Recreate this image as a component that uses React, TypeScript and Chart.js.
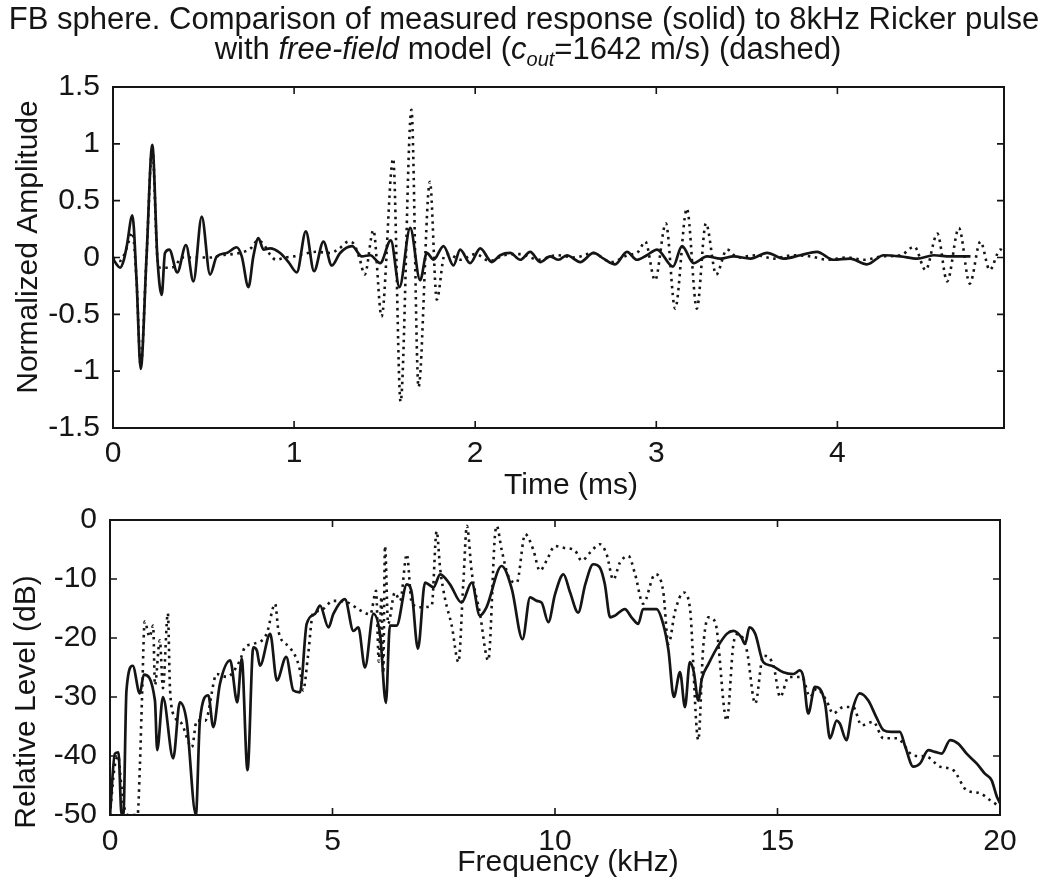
import React, { useEffect, useRef } from 'react';
import { Chart, registerables } from 'chart.js';

Chart.register(...registerables);

const FONT = '"Liberation Sans", Arial, Helvetica, sans-serif';
const INK = '#151515';

// ---- Data ----
// Time response: [time (ms), normalized amplitude]
const measuredPulse: [number, number][] = [
  [0, -0.01], [0.02, -0.06], [0.039, -0.09], [0.06, -0.02], [0.076, 0.1], [0.107, 0.37],
  [0.13, -0.2], [0.153, -0.98], [0.185, 0.0], [0.217, 0.99], [0.245, 0.0], [0.269, -0.33],
  [0.287, 0.04], [0.311, 0.07], [0.355, -0.13], [0.403, 0.11], [0.444, -0.21], [0.49, 0.36],
  [0.536, -0.15], [0.573, 0.01], [0.628, 0.04], [0.683, 0.09], [0.711, 0.01], [0.748, -0.26],
  [0.775, 0.01], [0.803, 0.17], [0.831, 0.07], [0.867, 0.08], [0.923, 0.04], [0.969, -0.04],
  [1.015, -0.13], [1.065, 0.23], [1.11, -0.12], [1.162, 0.14], [1.208, -0.07], [1.254, 0.04],
  [1.32, 0.1], [1.374, 0.01], [1.42, 0.02], [1.475, -0.05], [1.534, 0.15], [1.582, -0.26],
  [1.641, 0.26], [1.696, -0.2], [1.733, 0.04], [1.77, -0.02], [1.825, 0.1], [1.88, -0.07],
  [1.917, 0.07], [1.972, -0.05], [2.028, 0.08], [2.092, -0.04], [2.138, 0.02], [2.193, 0.04],
  [2.249, -0.02], [2.304, 0.05], [2.359, -0.04], [2.414, 0.01], [2.46, -0.02], [2.506, 0.02],
  [2.58, -0.04], [2.654, 0.04], [2.709, -0.01], [2.773, -0.06], [2.838, 0.05], [2.893, -0.02],
  [2.948, 0.02], [3.004, 0.07], [3.092, -0.08], [3.142, 0.1], [3.206, -0.05], [3.28, 0.01],
  [3.354, -0.01], [3.427, 0.01], [3.52, -0.01], [3.612, 0.04], [3.703, -0.01], [3.795, 0.02],
  [3.887, 0.05], [3.979, -0.02], [4.07, -0.01], [4.163, -0.06], [4.256, 0.02], [4.348, 0.01],
  [4.44, -0.01], [4.532, 0.02], [4.624, 0.01], [4.735, 0.01],
];

const modelPulse: [number, number][] = [
  [0, 0], [0.04, -0.03], [0.075, 0.08], [0.107, 0.22], [0.13, -0.2], [0.153, -0.95],
  [0.185, 0.0], [0.217, 0.97], [0.245, 0.0], [0.262, -0.09], [0.3, -0.09], [0.34, -0.08],
  [0.38, 0.0], [0.45, 0.0], [0.54, 0.0], [0.6, 0.02], [0.7, 0.04], [0.76, 0.08], [0.8, 0.15],
  [0.83, 0.12], [0.87, 0.02], [0.9, -0.02], [0.95, 0.0], [1.0, 0.01], [1.05, 0.03], [1.12, 0.05],
  [1.2, 0.04], [1.25, 0.08], [1.3, 0.14], [1.33, 0.12], [1.36, 0.0], [1.39, -0.15],
  [1.438, 0.24], [1.483, -0.52], [1.547, 0.87], [1.588, -1.27], [1.648, 1.3], [1.687, -1.14],
  [1.75, 0.667], [1.788, -0.37], [1.83, 0.02], [1.85, 0.03], [1.92, -0.02], [2.0, 0.03],
  [2.08, -0.03], [2.16, 0.02], [2.25, 0.03], [2.35, -0.02], [2.45, 0.02], [2.55, 0.0],
  [2.65, 0.04], [2.75, -0.04], [2.84, 0.02], [2.9, 0.05], [2.939, 0.14], [2.993, -0.2],
  [3.053, 0.3], [3.104, -0.45], [3.169, 0.43], [3.224, -0.45], [3.274, 0.3], [3.331, -0.15],
  [3.39, 0.07], [3.45, 0.0], [3.55, 0.02], [3.65, -0.01], [3.75, 0.02], [3.85, 0.01],
  [3.95, -0.02], [4.05, 0.0], [4.15, -0.02], [4.25, 0.01], [4.35, 0.02], [4.425, 0.095],
  [4.487, -0.11], [4.552, 0.21], [4.606, -0.21], [4.671, 0.26], [4.731, -0.23], [4.79, 0.14],
  [4.841, -0.11], [4.9, 0.07], [4.92, 0.05],
];

// Spectrum: [frequency (kHz), relative level (dB)]
const measuredSpectrum: [number, number][] = [
  [0, -50], [0.11, -39.6], [0.19, -39.4], [0.26, -50], [0.3, -50], [0.37, -28.9], [0.51, -24.7],
  [0.67, -29.4], [0.76, -26.2], [1.01, -30.6], [1.06, -39.0], [1.19, -30.0], [1.42, -40.4],
  [1.57, -30.9], [1.72, -34.0], [1.93, -50], [2.02, -34.0], [2.21, -29.7], [2.32, -35.1],
  [2.47, -27.8], [2.7, -23.8], [2.86, -30.9], [2.96, -23.5], [3.09, -42.4], [3.22, -21.6],
  [3.3, -22.1], [3.37, -24.7], [3.6, -19.3], [3.75, -27.2], [3.96, -23.2], [4.12, -28.9],
  [4.27, -29.2], [4.42, -17.6], [4.61, -15.9], [4.72, -14.5], [4.91, -18.2], [5.02, -15.9],
  [5.28, -13.4], [5.47, -18.8], [5.58, -18.2], [5.73, -25.0], [5.92, -15.9], [6.07, -19.5],
  [6.2, -31.0], [6.29, -17.9], [6.44, -17.9], [6.67, -10.9], [6.78, -12.3], [6.92, -21.8],
  [7.08, -10.6], [7.27, -11.4], [7.42, -9.2], [7.64, -10.9], [7.9, -14.0], [8.13, -10.6],
  [8.31, -16.2], [8.46, -14.8], [8.8, -7.8], [9.03, -11.7], [9.27, -20.2], [9.44, -13.1],
  [9.59, -13.7], [9.7, -14.0], [9.85, -17.3], [10.0, -12.6], [10.19, -9.2], [10.34, -12.3],
  [10.52, -15.7], [10.68, -10.9], [10.86, -7.5], [11.01, -8.1], [11.12, -10.9], [11.24, -16.5],
  [11.35, -16.2], [11.57, -15.1], [11.72, -16.5], [11.87, -17.6], [11.98, -15.1], [12.28, -15.1],
  [12.43, -17.6], [12.55, -22.1], [12.67, -30.0], [12.81, -25.8], [12.92, -31.7], [13.03, -24.1],
  [13.12, -25.8], [13.22, -30.6], [13.3, -26.9], [13.45, -24.4], [13.63, -21.8], [13.86, -19.3],
  [14.01, -18.8], [14.19, -19.9], [14.27, -21.0], [14.37, -18.2], [14.5, -19.3], [14.68, -24.1],
  [14.87, -24.7], [15.13, -25.8], [15.36, -26.1], [15.5, -25.5], [15.58, -26.6], [15.69, -32.8],
  [15.84, -28.3], [15.95, -28.6], [16.07, -31.1], [16.18, -37.0], [16.33, -34.0], [16.4, -34.5],
  [16.55, -37.3], [16.67, -32.6], [16.85, -29.4], [17.04, -30.6], [17.22, -33.4], [17.38, -35.6],
  [17.56, -35.9], [17.75, -35.9], [17.87, -38.4], [18.05, -41.8], [18.2, -41.3], [18.39, -39.0],
  [18.54, -39.3], [18.69, -39.6], [18.88, -37.3], [19.06, -37.9], [19.25, -39.6], [19.48, -41.3],
  [19.66, -43.0], [19.81, -44.1], [19.93, -46.9], [20.0, -48.0],
];

const modelSpectrum: [number, number][] = [
  [0, -50], [0.1, -42], [0.19, -40], [0.24, -44], [0.33, -49], [0.4, -50], [0.62, -50],
  [0.67, -42], [0.72, -30], [0.78, -17.2], [0.89, -19.8], [0.97, -17.9], [1.01, -28.0],
  [1.12, -20.4], [1.19, -28.5], [1.3, -15.8], [1.35, -28.9], [1.46, -33.4], [1.61, -34.5],
  [1.84, -38.5], [1.95, -34.0], [2.14, -34.0], [2.4, -26.1], [2.62, -26.6], [2.92, -23.8],
  [3.03, -21.6], [3.22, -21.0], [3.52, -19.3], [3.71, -14.2], [3.79, -19.0], [4.04, -21.6],
  [4.27, -25.5], [4.34, -28.9], [4.45, -23.0], [4.56, -15.9], [4.72, -15.4], [5.02, -13.7],
  [5.35, -14.0], [5.58, -15.1], [5.85, -16.0], [5.98, -12.0], [6.04, -24.0], [6.1, -13.0],
  [6.14, -26.0], [6.18, -4.4], [6.25, -17.6], [6.4, -12.3], [6.52, -13.7], [6.67, -5.8],
  [6.78, -14.0], [6.98, -14.8], [7.23, -14.5], [7.34, -1.9], [7.42, -8.3], [7.53, -13.4],
  [7.68, -17.9], [7.83, -24.1], [7.94, -10.6], [8.02, -1.0], [8.13, -8.9], [8.31, -15.7],
  [8.5, -23.8], [8.65, -2.7], [8.69, -1.0], [8.8, -5.0], [8.95, -9.5], [9.14, -10.6],
  [9.33, -2.4], [9.51, -5.0], [9.66, -8.6], [9.81, -6.9], [10.0, -4.4], [10.19, -4.7],
  [10.45, -5.2], [10.6, -6.9], [10.79, -5.5], [11.01, -4.1], [11.16, -5.8], [11.31, -10.1],
  [11.46, -7.2], [11.65, -6.1], [11.8, -9.2], [11.98, -14.2], [12.25, -9.2], [12.43, -12.0],
  [12.55, -21.0], [12.7, -15.4], [12.89, -12.3], [13.03, -14.8], [13.22, -37.3], [13.33, -21.6],
  [13.45, -16.5], [13.6, -17.3], [13.86, -34.0], [14.01, -21.0], [14.12, -19.3], [14.31, -22.1],
  [14.5, -31.1], [14.68, -23.0], [14.91, -24.7], [15.06, -30.0], [15.25, -26.6], [15.55, -26.6],
  [15.73, -30.0], [15.88, -28.6], [16.1, -30.6], [16.25, -32.8], [16.48, -31.7], [16.7, -31.7],
  [16.89, -34.8], [17.15, -34.2], [17.38, -37.0], [17.68, -37.0], [18.05, -39.9], [18.35, -40.1],
  [18.65, -41.8], [18.95, -42.4], [19.25, -45.8], [19.55, -46.3], [19.78, -47.5], [20.0, -48.6],
];

const timeTicks = [0, 1, 2, 3, 4];
const amplitudeTicks = [-1.5, -1, -0.5, 0, 0.5, 1, 1.5];
const frequencyTicks = [0, 5, 10, 15, 20];
const levelTicks = [-50, -40, -30, -20, -10, 0];

const titleLine1 = 'FB sphere. Comparison of measured response (solid) to 8kHz Ricker pulse';

// ---- helpers ----
type Run = { text: string; italic?: boolean; size?: number; dy?: number };
type TextItem = { runs: Run[]; x: number; y: number; size: number; rotate?: number };

function makeTextPlugin(id: string, items: TextItem[]) {
  return {
    id,
    afterDraw(chart: any) {
      const ctx = chart.ctx as CanvasRenderingContext2D;
      items.forEach((item) => {
        ctx.save();
        ctx.translate(item.x, item.y);
        if (item.rotate) ctx.rotate(item.rotate);
        ctx.fillStyle = INK;
        ctx.textBaseline = 'alphabetic';
        ctx.textAlign = 'left';
        const fontOf = (r: Run) => `${r.italic ? 'italic ' : ''}${r.size || item.size}px ${FONT}`;
        let total = 0;
        const widths = item.runs.map((r) => {
          ctx.font = fontOf(r);
          const w = ctx.measureText(r.text).width;
          total += w;
          return w;
        });
        let cx = -total / 2;
        item.runs.forEach((r, i) => {
          ctx.font = fontOf(r);
          ctx.fillText(r.text, cx, r.dy || 0);
          cx += widths[i];
        });
        ctx.restore();
      });
    },
  };
}

const framePlugin = {
  id: 'matlabFrame',
  afterDatasetsDraw(chart: any) {
    const { ctx, chartArea: a, scales } = chart;
    ctx.save();
    ctx.strokeStyle = INK;
    ctx.lineWidth = 2;
    ctx.strokeRect(a.left, a.top, a.right - a.left, a.bottom - a.top);
    const L = 7;
    ctx.lineWidth = 1.6;
    ctx.beginPath();
    scales.x.ticks.forEach((t: any) => {
      const x = scales.x.getPixelForValue(t.value);
      ctx.moveTo(x, a.bottom);
      ctx.lineTo(x, a.bottom - L);
      ctx.moveTo(x, a.top);
      ctx.lineTo(x, a.top + L);
    });
    scales.y.ticks.forEach((t: any) => {
      const y = scales.y.getPixelForValue(t.value);
      ctx.moveTo(a.left, y);
      ctx.lineTo(a.left + L, y);
      ctx.moveTo(a.right, y);
      ctx.lineTo(a.right - L, y);
    });
    ctx.stroke();
    ctx.restore();
  },
};

function lineDatasets(solid: [number, number][], dotted: [number, number][]) {
  return [
    {
      label: 'measured',
      data: solid.map(([x, y]) => ({ x, y })),
      borderColor: INK,
      borderWidth: 2.7,
      pointRadius: 0,
      showLine: true,
      fill: false,
      cubicInterpolationMode: 'monotone' as const,
      borderJoinStyle: 'round' as const,
      order: 0,
    },
    {
      label: 'model',
      data: dotted.map(([x, y]) => ({ x, y })),
      borderColor: INK,
      borderWidth: 2.6,
      borderDash: [2.5, 4.5],
      pointRadius: 0,
      showLine: true,
      fill: false,
      cubicInterpolationMode: 'monotone' as const,
      order: 1,
    },
  ];
}

function axisConfig(min: number, max: number, ticks: number[], pos: 'x' | 'y', fixed: number, pad: number) {
  return {
    type: 'linear' as const,
    min,
    max,
    grid: { display: false },
    border: { display: false },
    afterBuildTicks: (scale: any) => {
      scale.ticks = ticks.map((v) => ({ value: v }));
    },
    afterFit: (scale: any) => {
      if (pos === 'y') scale.width = fixed;
      else scale.height = fixed;
    },
    ticks: {
      color: INK,
      padding: pad,
      autoSkip: false,
      maxRotation: 0,
      font: { family: FONT, size: 30 },
      callback: (v: any) => String(Number(v)),
    },
  };
}

export default function App() {
  const topRef = useRef<HTMLCanvasElement | null>(null);
  const bottomRef = useRef<HTMLCanvasElement | null>(null);

  useEffect(() => {
    if (!topRef.current || !bottomRef.current) return;

    const topTexts = makeTextPlugin('topTexts', [
      { runs: [{ text: titleLine1 }], x: 524, y: 29, size: 31 },
      {
        runs: [
          { text: 'with ' },
          { text: 'free-field', italic: true },
          { text: ' model (' },
          { text: 'c', italic: true },
          { text: 'out', italic: true, size: 20, dy: 7 },
          { text: '=1642 m/s) (dashed)' },
        ],
        x: 528,
        y: 59,
        size: 31,
      },
      { runs: [{ text: 'Normalized Amplitude' }], x: 37, y: 247, size: 30, rotate: -Math.PI / 2 },
      { runs: [{ text: 'Time (ms)' }], x: 571, y: 494, size: 30 },
    ]);

    const bottomTexts = makeTextPlugin('bottomTexts', [
      { runs: [{ text: 'Relative Level (dB)' }], x: 35, y: 702, size: 30, rotate: -Math.PI / 2 },
      { runs: [{ text: 'Frequency (kHz)' }], x: 568, y: 871, size: 30 },
    ]);

    const top = new Chart(topRef.current, {
      type: 'scatter',
      data: { datasets: lineDatasets(measuredPulse, modelPulse) as any },
      options: {
        animation: false,
        responsive: false,
        maintainAspectRatio: false,
        layout: { padding: { top: 87, right: 48, left: 0, bottom: 0 } },
        plugins: { legend: { display: false }, tooltip: { enabled: false }, title: { display: false } },
        scales: {
          x: axisConfig(0, 4.92, timeTicks, 'x', 893 - 428, 0),
          y: axisConfig(-1.5, 1.5, amplitudeTicks, 'y', 113, 5),
        },
      } as any,
      plugins: [framePlugin, topTexts],
    });

    const bottom = new Chart(bottomRef.current, {
      type: 'scatter',
      data: { datasets: lineDatasets(measuredSpectrum, modelSpectrum) as any },
      options: {
        animation: false,
        responsive: false,
        maintainAspectRatio: false,
        layout: { padding: { top: 520, right: 52, left: 0, bottom: 0 } },
        plugins: { legend: { display: false }, tooltip: { enabled: false }, title: { display: false } },
        scales: {
          x: axisConfig(0, 20, frequencyTicks, 'x', 893 - 815, 1),
          y: axisConfig(-50, 0, levelTicks, 'y', 110, 5),
        },
      } as any,
      plugins: [framePlugin, bottomTexts],
    });

    return () => {
      top.destroy();
      bottom.destroy();
    };
  }, []);

  return (
    <div style={{ position: 'absolute', left: 0, top: 0, width: 1052, height: 893, background: '#fff', overflow: 'hidden' }}>
      <canvas ref={topRef} width={1052} height={893} style={{ position: 'absolute', left: 0, top: 0 }} />
      <canvas ref={bottomRef} width={1052} height={893} style={{ position: 'absolute', left: 0, top: 0 }} />
    </div>
  );
}
